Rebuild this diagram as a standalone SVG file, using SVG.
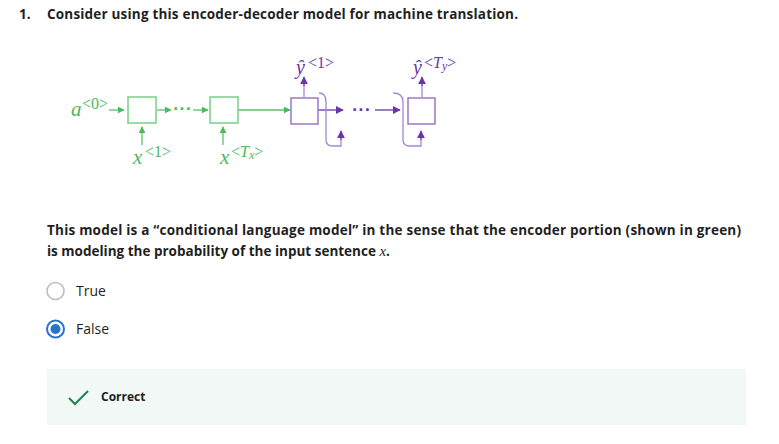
<svg xmlns="http://www.w3.org/2000/svg" width="779" height="444" viewBox="0 0 779 444">
<style>
.t{font-family:"Open Sans","Noto Sans",sans-serif;fill:#1f1f1f}
.b{font-weight:700}
.m{font-family:"Liberation Serif","DejaVu Serif",serif;font-style:italic}
.s{font-family:"Liberation Serif","DejaVu Serif",serif;font-size:16px}
.g{fill:#4cb85f}
.p{fill:#6a35a6}
.gs{stroke:#5cbf6c;stroke-width:1.3;fill:none}
.gb{stroke:#78cf88;stroke-width:1.5;fill:#fff}
.ps{stroke:#6a35a6;stroke-width:1.3;fill:none}
.pb{stroke:#9a78c8;stroke-width:1.5;fill:#fff}
.pc{stroke:#a887d2;stroke-width:1.3;fill:none}
</style>
<defs>
<marker id="ag" viewBox="0 0 10 10" refX="9" refY="5" markerWidth="7" markerHeight="7" markerUnits="userSpaceOnUse" orient="auto"><path d="M0,0L10,5L0,10z" fill="#4cb85f"/></marker>
<marker id="ap" viewBox="0 0 10 10" refX="9" refY="5" markerWidth="8" markerHeight="8" markerUnits="userSpaceOnUse" orient="auto"><path d="M0,0L10,5L0,10z" fill="#6a35a6"/></marker>
</defs>
<rect width="779" height="444" fill="#fff"/>
<text class="t b" x="19" y="19" font-size="13.5">1.</text>
<text class="t b" x="47" y="19" font-size="13.5" textLength="471">Consider using this encoder-decoder model for machine translation.</text>

<g id="connectors">
<line class="gs" x1="109" y1="110" x2="124" y2="110" marker-end="url(#ag)"/>
<line class="gs" x1="157" y1="110" x2="171" y2="110" marker-end="url(#ag)"/>
<line class="gs" x1="193" y1="110" x2="208" y2="110" marker-end="url(#ag)"/>
<line class="gs" x1="238" y1="110" x2="290" y2="110" marker-end="url(#ag)"/>
<line class="gs" x1="142" y1="145" x2="142" y2="127" marker-end="url(#ag)"/>
<line class="gs" x1="223" y1="145" x2="223" y2="127" marker-end="url(#ag)"/>
<line class="ps" x1="318" y1="110" x2="343" y2="110" marker-end="url(#ap)"/>
<line class="ps" x1="375" y1="110" x2="400" y2="110" marker-end="url(#ap)"/>
<line class="pc" x1="304" y1="97" x2="304" y2="85"/>
<line class="ps" x1="304" y1="86" x2="304" y2="77" marker-end="url(#ap)"/>
<line class="pc" x1="422" y1="97" x2="422" y2="85"/>
<line class="ps" x1="422" y1="86" x2="422" y2="77" marker-end="url(#ap)"/>
<path class="pc" d="M319,93 Q326,93 326,102 L326,140 Q326,146 333,146 L341,146 L341,139"/>
<line class="ps" x1="341" y1="140" x2="341" y2="131" marker-end="url(#ap)"/>
<path class="pc" d="M393,93 Q403,93 403,102 L403,140 Q403,146 410,146 L421,146 L421,139"/>
<line class="ps" x1="421" y1="140" x2="421" y2="131" marker-end="url(#ap)"/>
</g>

<g id="dots-enc"><text class="g" x="173" y="114" font-family="DejaVu Sans,sans-serif" font-size="14" font-weight="700" letter-spacing="1">···</text></g>
<g id="dots-dec"><text class="p" x="352" y="115" font-family="DejaVu Sans,sans-serif" font-size="14" font-weight="700" letter-spacing="1">···</text></g>

<g id="enc1"><rect class="gb" x="128" y="97" width="28" height="26"/></g>
<g id="enc2"><rect class="gb" x="210" y="97" width="28" height="26"/></g>
<g id="dec1"><rect class="pb" x="291" y="98" width="27" height="26"/></g>
<g id="dec2"><rect class="pb" x="408" y="98" width="27" height="26"/></g>

<g id="a0"><text class="g m" x="71" y="116" font-size="21">a</text><text class="g s" x="82" y="109">&lt;0&gt;</text></g>
<g id="x1"><text class="g m" x="133" y="164" font-size="21">x</text><text class="g s" x="145" y="157">&lt;1&gt;</text></g>
<g id="xTx"><text class="g m" x="220" y="164" font-size="21">x</text><text class="g s" x="231" y="157">&lt;<tspan font-style="italic">T</tspan><tspan font-style="italic" font-size="12" dy="2">x</tspan><tspan dy="-2">&gt;</tspan></text></g>
<g id="y1"><text class="p m" x="296" y="74" font-size="20">ŷ</text><text class="p s" x="308" y="68">&lt;1&gt;</text></g>
<g id="yTy"><text class="p m" x="413" y="74" font-size="20">ŷ</text><text class="p s" x="424" y="68">&lt;<tspan font-style="italic">T</tspan><tspan font-style="italic" font-size="12" dy="2">y</tspan><tspan dy="-2">&gt;</tspan></text></g>

<text class="t b" x="47" y="235" font-size="13.5" textLength="694">This model is a “conditional language model” in the sense that the encoder portion (shown in green)</text>
<text class="t b" x="47" y="256" font-size="13.5">is modeling the probability of the input sentence <tspan class="m" font-weight="400" font-size="15">x</tspan>.</text>

<g id="opt-true"><circle cx="55.5" cy="291" r="8.5" fill="#fff" stroke="#bdbdbd" stroke-width="1.6"/><text class="t" x="76" y="296" font-size="14" fill="#333">True</text></g>
<g id="opt-false"><circle cx="55.5" cy="329" r="8.5" fill="#fff" stroke="#2a73cc" stroke-width="2"/><circle cx="55.5" cy="329" r="5" fill="#2a73cc"/><text class="t" x="76" y="334" font-size="14" fill="#333">False</text></g>

<g id="feedback"><rect x="47" y="369" width="699" height="56" fill="#f2f8f6"/><path d="M69,398 L75,404 L88,391" fill="none" stroke="#1f8354" stroke-width="2"/><text class="t b" x="101" y="401" font-size="12">Correct</text></g>
</svg>
